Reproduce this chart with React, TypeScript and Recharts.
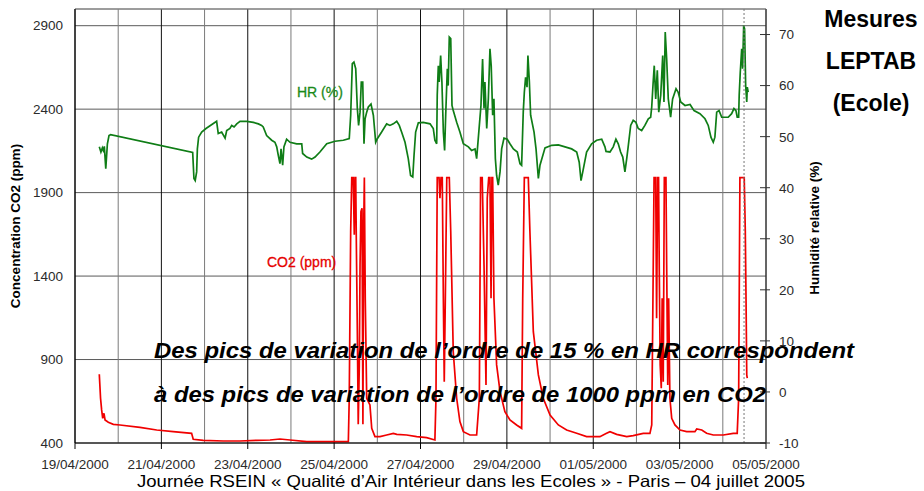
import React from 'react';
import {
  LineChart,
  Line,
  XAxis,
  YAxis,
  CartesianGrid,
  ReferenceLine
} from 'recharts';

// time axis: hours since 19/04/2000 00:00
const dayLabels = [
  '19/04/2000', '20/04/2000', '21/04/2000', '22/04/2000', '23/04/2000', '24/04/2000',
  '25/04/2000', '26/04/2000', '27/04/2000', '28/04/2000', '29/04/2000', '30/04/2000',
  '01/05/2000', '02/05/2000', '03/05/2000', '04/05/2000', '05/05/2000'
];
const co2Ticks = [400, 900, 1400, 1900, 2400, 2900];
const hrTicks = [-10, 0, 10, 20, 30, 40, 50, 60, 70];
const cursorHour = 371.8;

// HR (%) - right axis
const hrTime = [
  13.5, 14.4, 15.2, 15.7, 16.3, 17.1, 18.0, 18.9, 19.8, 65.4,
  66.1, 66.8, 67.6, 68.0, 68.7, 70.4, 72.8, 78.7, 79.6, 81.5,
  83.4, 84.3, 86.1, 87.1, 88.4, 89.9, 91.7, 95.4, 99.1, 101.9,
  103.7, 104.6, 106.5, 109.3, 111.1, 112.1, 113.0, 113.9, 114.5, 115.4,
  116.1, 117.6, 119.5, 123.2, 126.0, 126.5, 128.8, 131.5, 133.4, 136.1,
  139.9, 144.5, 149.1, 152.4, 153.2, 154.1, 155.0, 156.0, 156.9, 157.6,
  158.4, 159.1, 159.9, 160.6, 161.2, 162.1, 163.0, 164.5, 165.8, 167.1,
  168.0, 170.4, 173.2, 175.0, 176.9, 178.8, 180.2, 181.5, 183.4, 185.2,
  186.5, 187.7, 188.4, 189.3, 190.8, 193.5, 197.3, 199.1, 200.0, 201.0,
  201.3, 201.9, 202.4, 203.2, 203.9, 204.7, 205.4, 206.0, 206.9, 207.4,
  208.0, 208.8, 209.5, 210.2, 212.1, 213.9, 215.8, 218.6, 220.4, 222.3,
  223.2, 224.7, 225.6, 226.5, 227.3, 227.8, 228.8, 229.7, 230.6, 231.3,
  232.1, 232.8, 233.6, 234.3, 235.2, 236.2, 237.1, 238.4, 240.2, 241.7,
  243.6, 245.8, 247.3, 248.2, 249.1, 249.7, 250.4, 251.2, 251.7, 252.5,
  253.2, 255.1, 256.2, 257.5, 258.4, 261.2, 264.9, 268.6, 272.3, 276.0,
  278.8, 280.2, 281.2, 282.5, 284.3, 287.1, 289.9, 292.7, 294.5, 295.1,
  297.3, 299.1, 300.6, 301.9, 303.2, 304.4, 305.6, 306.6, 307.5, 308.8,
  310.2, 311.7, 313.0, 314.9, 316.7, 318.6, 319.9, 320.5, 321.3, 321.9,
  322.7, 323.6, 324.4, 325.5, 326.6, 327.3, 328.0, 328.8, 329.7, 331.0,
  332.1, 334.0, 335.2, 336.6, 339.0, 341.8, 344.0, 347.3, 350.1, 351.9,
  353.4, 354.7, 355.6, 356.6, 357.9, 359.4, 363.0, 364.9, 366.2, 367.3,
  368.0, 368.8, 369.1, 369.7, 370.5, 371.0, 371.6, 372.1, 372.7, 373.3,
  373.6, 374.1
];
const hrValue = [
  48.0, 47.0, 47.8, 47.3, 48.1, 43.7, 48.6, 50.2, 50.4, 46.9,
  41.8, 41.4, 43.1, 47.6, 49.9, 50.9, 51.6, 53.0, 50.6, 50.9,
  49.7, 51.2, 51.6, 52.2, 51.9, 52.5, 53.0, 53.0, 52.8, 52.5,
  52.2, 51.9, 50.2, 49.3, 48.9, 48.0, 46.3, 44.7, 47.6, 44.4,
  48.0, 49.5, 48.9, 48.6, 48.6, 46.7, 46.0, 45.6, 46.0, 47.0,
  48.6, 49.1, 49.3, 49.6, 54.2, 64.3, 64.6, 63.3, 55.5, 52.2,
  54.8, 60.7, 60.7, 48.6, 53.5, 54.8, 55.8, 56.4, 54.2, 48.9,
  49.6, 50.9, 52.5, 52.2, 52.5, 53.0, 52.2, 50.9, 48.9, 45.7,
  42.4, 42.1, 46.3, 50.9, 52.7, 52.8, 52.5, 51.6, 49.3, 48.6,
  58.1, 63.9, 60.7, 65.9, 60.7, 50.9, 47.3, 54.2, 63.3, 60.0,
  69.5, 69.2, 56.1, 55.1, 52.8, 50.9, 48.6, 48.0, 47.3, 47.6,
  45.7, 52.2, 56.1, 65.2, 55.5, 60.7, 51.6, 57.4, 67.2, 63.9,
  54.2, 57.4, 45.7, 42.4, 40.5, 43.1, 47.6, 49.7, 49.5, 48.6,
  47.6, 47.0, 44.7, 44.4, 54.8, 58.7, 61.6, 59.7, 65.9, 60.7,
  54.2, 50.9, 47.6, 41.8, 44.4, 47.8, 48.3, 48.4, 48.0, 47.6,
  47.0, 45.0, 41.4, 43.7, 47.0, 48.6, 49.3, 49.5, 48.0, 47.1,
  47.0, 48.0, 49.5, 48.6, 47.0, 46.0, 43.1, 45.7, 48.3, 52.2,
  53.2, 52.8, 51.6, 51.2, 52.2, 53.5, 53.8, 55.8, 60.7, 63.9,
  57.4, 63.0, 54.8, 58.1, 65.9, 56.8, 70.5, 65.2, 57.4, 53.8,
  57.4, 59.4, 58.7, 56.8, 56.1, 56.3, 55.1, 54.5, 53.5, 52.2,
  49.9, 48.9, 49.9, 54.8, 55.1, 53.8, 53.8, 54.5, 55.5, 55.1,
  53.8, 53.8, 58.1, 62.6, 67.2, 63.3, 71.8, 71.1, 60.0, 56.8,
  59.7, 58.7
];

// CO2 (ppm) - left axis
const co2Time = [
  13.5, 14.2, 14.8, 15.4, 16.1, 16.7, 18.5, 21.3, 25.0, 36.1,
  45.4, 54.6, 64.8, 65.7, 71.3, 82.4, 91.7, 101.0, 108.4, 113.9,
  119.5, 128.8, 139.9, 151.9, 152.4, 153.2, 153.8, 154.6, 155.2, 155.6,
  156.0, 156.3, 156.9, 157.4, 158.0, 158.4, 158.9, 159.5, 160.0, 160.4,
  160.8, 161.3, 162.1, 163.0, 163.9, 164.9, 166.7, 169.5, 173.2, 176.9,
  178.8, 184.3, 189.9, 195.4, 200.0, 200.6, 201.3, 202.3, 202.8, 203.4,
  204.1, 204.7, 205.2, 205.8, 206.6, 208.0, 208.8, 210.2, 212.1, 213.9,
  215.8, 219.5, 223.2, 224.7, 225.4, 226.3, 227.3, 228.4, 229.1, 229.9,
  230.6, 231.2, 231.7, 232.1, 232.8, 234.3, 236.2, 238.9, 241.7, 245.4,
  248.2, 248.8, 249.7, 251.9, 252.8, 254.7, 257.5, 260.2, 264.0, 268.6,
  273.2, 278.8, 284.3, 288.0, 291.7, 295.4, 297.3, 301.0, 306.6, 310.2,
  315.8, 319.5, 320.5, 321.0, 321.8, 322.7, 323.2, 323.8, 324.3, 324.7,
  325.2, 325.8, 326.3, 326.9, 327.5, 328.4, 328.8, 329.4, 329.9, 330.6,
  331.6, 333.4, 336.2, 339.9, 344.5, 345.5, 348.3, 351.0, 354.7, 360.3,
  365.8, 368.0, 368.8, 369.5, 371.9, 372.5, 372.9, 373.3, 373.6
];
const co2Value = [
  812, 668, 598, 548, 578, 538, 524, 512, 508, 494,
  478, 468, 458, 422, 416, 412, 412, 416, 418, 424,
  418, 408, 408, 408, 668, 1667, 1990, 1990, 1647, 1990,
  1990, 1647, 1067, 512, 868, 1467, 1786, 1807, 512, 1667,
  1990, 1267, 668, 648, 628, 488, 438, 438, 448, 458,
  452, 448, 438, 432, 418, 668, 1990, 1990, 1867, 1990,
  1990, 1267, 767, 1267, 1990, 1990, 1667, 947, 668, 528,
  468, 448, 448, 668, 1990, 1990, 1467, 748, 1867, 1990,
  1990, 1267, 1990, 1990, 1267, 868, 708, 588, 538, 508,
  488, 1267, 1990, 1990, 1667, 1067, 808, 668, 568, 508,
  478, 458, 438, 438, 438, 458, 468, 452, 438, 444,
  458, 458, 508, 1067, 1990, 1990, 1147, 1990, 1990, 1427,
  868, 728, 1267, 767, 1990, 1990, 1467, 748, 1267, 668,
  548, 508, 478, 468, 468, 484, 478, 458, 448, 448,
  458, 458, 668, 1990, 1990, 1667, 1267, 808, 788
];

const hrData = hrTime.map((h, i) => ({ h, hr: hrValue[i] }));
const co2Data = co2Time.map((h, i) => ({ h, co2: co2Value[i] }));
const hourTicks = dayLabels.map((_, i) => i * 24);

const FONT = '"Liberation Sans", Arial, sans-serif';
const W = 924;
const H = 491;
const LEFT_W = 75;
const RIGHT_W = 158;
const DAY_PX = (W - LEFT_W - RIGHT_W) / (dayLabels.length - 1);

const DateTick = (props: any) => {
  const { x, y, payload } = props;
  const idx = Math.round(payload.value / 24);
  if (idx % 2 !== 0) return <g />;
  return (
    <g>
      <line x1={x} y1={y} x2={x} y2={y + 6} stroke="#000" />
      <text x={x} y={y + 26} textAnchor="middle" fontSize={13.5} fill="#2b2b2b" fontFamily={FONT}>
        {dayLabels[idx]}
      </text>
    </g>
  );
};

const HrTick = (props: any) => {
  const { x, y, payload } = props;
  return (
    <g>
      <line x1={x - 19} y1={y} x2={x - 9} y2={y} stroke="#333" />
      <text x={x} y={y} dy="0.36em" textAnchor="start" fontSize={13.5} fill="#2b2b2b" fontFamily={FONT}>
        {payload.value}
      </text>
    </g>
  );
};

// darker line on labelled days, grey on the others
const dayLine = (p: any) => {
  const d = Math.round((p.x1 - LEFT_W) / DAY_PX);
  return (
    <line
      key={`v-${p.index}`}
      x1={p.x1}
      y1={p.y1}
      x2={p.x2}
      y2={p.y2}
      stroke={d % 2 === 0 ? '#111' : '#7a7a7a'}
      strokeWidth={1}
    />
  );
};

export default function App() {
  return (
    <div style={{ position: 'absolute', left: 0, top: 0, width: W, height: H, background: '#fff' }}>
      <LineChart width={W} height={H} margin={{ top: 9, right: 0, bottom: 0, left: 0 }}>
        <CartesianGrid yAxisId="left" stroke="#5a5a5a" horizontal vertical={dayLine} />
        <XAxis
          dataKey="h"
          type="number"
          domain={[0, 384]}
          ticks={hourTicks}
          interval={0}
          height={48}
          tickSize={0}
          tickMargin={0}
          tickLine={false}
          axisLine={{ stroke: '#000' }}
          tick={<DateTick />}
          allowDuplicatedCategory={false}
        />
        <YAxis
          yAxisId="left"
          domain={[400, 3000]}
          ticks={co2Ticks}
          width={LEFT_W}
          tickSize={0}
          tickMargin={12}
          tickLine={false}
          axisLine={{ stroke: '#000' }}
          tick={{ fontSize: 13.5, fill: '#2b2b2b', fontFamily: FONT }}
          allowDataOverflow
        />
        <YAxis
          yAxisId="right"
          orientation="right"
          domain={[-10, 75]}
          ticks={hrTicks}
          width={RIGHT_W}
          tickSize={0}
          tickMargin={13}
          tickLine={false}
          axisLine={{ stroke: '#444' }}
          tick={<HrTick />}
          allowDataOverflow
        />
        <ReferenceLine yAxisId="left" y={3000} stroke="#8c8c8c" />
        <Line
          yAxisId="right"
          data={hrData}
          dataKey="hr"
          type="linear"
          stroke="#0f7d16"
          strokeWidth={1.7}
          dot={false}
          isAnimationActive={false}
        />
        <Line
          yAxisId="left"
          data={co2Data}
          dataKey="co2"
          type="linear"
          stroke="#f00000"
          strokeWidth={1.7}
          dot={false}
          isAnimationActive={false}
        />
        <ReferenceLine yAxisId="left" x={cursorHour} stroke="#777" strokeDasharray="2 2" />
      </LineChart>
      <svg
        width={W}
        height={H}
        style={{ position: 'absolute', left: 0, top: 0, pointerEvents: 'none' }}
        fontFamily={FONT}
      >
        <text x={297} y={97} fontSize={14} fill="#1a8a1a" stroke="#1a8a1a" strokeWidth={0.3}>HR (%)</text>
        <text x={267} y={267} fontSize={14} fill="#e60000" stroke="#e60000" strokeWidth={0.3}>CO2 (ppm)</text>
        <g fontSize={23} fontWeight="bold" textAnchor="middle" fill="#000">
          <text x={871} y={27}>Mesures</text>
          <text x={871} y={69}>LEPTAB</text>
          <text x={871} y={111}>(Ecole)</text>
        </g>
        <text
          transform="translate(19.5,226) rotate(-90)"
          textAnchor="middle"
          fontSize={13.5}
          fontWeight="bold"
          fill="#000"
        >
          Concentration CO2 (ppm)
        </text>
        <text
          transform="translate(818.5,228) rotate(-90)"
          textAnchor="middle"
          fontSize={13.5}
          fontWeight="bold"
          fill="#000"
        >
          Humidité relative (%)
        </text>
        <g fontSize={22} fontWeight="bold" fontStyle="italic" fill="#000">
          <text x={154} y={358} textLength={700} lengthAdjust="spacingAndGlyphs">
            Des pics de variation de l’ordre de 15 % en HR correspondent
          </text>
          <text x={154} y={402} textLength={612} lengthAdjust="spacingAndGlyphs">
            à des pics de variation de l’ordre de 1000 ppm en CO2
          </text>
        </g>
        <text x={137} y={487} fontSize={16.5} fill="#000" textLength={668} lengthAdjust="spacingAndGlyphs">
          Journée RSEIN « Qualité d’Air Intérieur dans les Ecoles » - Paris – 04 juillet 2005
        </text>
      </svg>
    </div>
  );
}
